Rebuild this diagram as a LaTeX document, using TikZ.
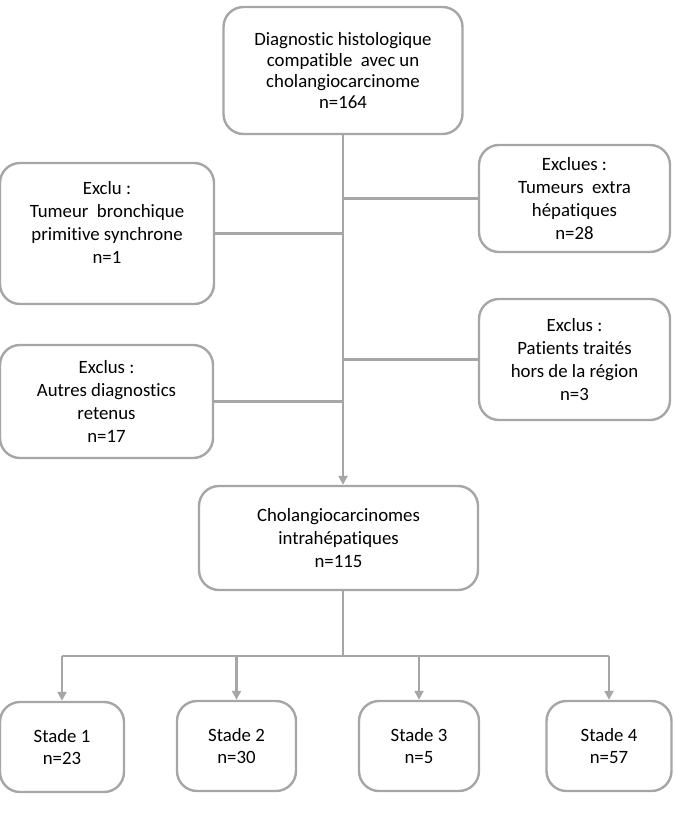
\documentclass[tikz,border=0pt]{standalone}
\usepackage{fontspec}
\setmainfont{Carlito}[Ligatures=NoCommon]
\usetikzlibrary{arrows.meta,positioning}
\definecolor{edge}{HTML}{A6A6A6}
\tikzset{
  box/.style={draw=edge, line width=2.4pt, rounded corners=20pt, fill=white,
    align=center, inner sep=2pt, font=\fontsize{18.8}{22.8}\selectfont, text=black},
  link/.style={draw=edge, line width=2.4pt},
  arr/.style={link, -{Triangle[width=9pt,length=9pt]}}
}
\begin{document}
\begin{tikzpicture}[x=1pt,y=-1pt]
\useasboundingbox (0,0) rectangle (675,825);
\node[box, minimum width=239pt, minimum height=127pt, font=\fontsize{18.8}{21}\selectfont] (top) at (343,70.5)
  {Diagnostic histologique\\compatible\ \ avec un\\cholangiocarcinome\\n=164};
\node[box, minimum width=214pt, minimum height=141pt, text depth=22pt] (ex1) at (107,233.5)
  {Exclu :\\Tumeur\ \ bronchique\\primitive synchrone\\n=1};
\node[box, minimum width=191pt, minimum height=107pt] (ex2) at (574.5,198.5)
  {Exclues :\\Tumeurs\ \ extra\\hépatiques\\n=28};
\node[box, minimum width=191pt, minimum height=121pt] (ex3) at (574.5,359.5)
  {Exclus :\\Patients traités\\hors de la région\\n=3};
\node[box, minimum width=213pt, minimum height=113pt] (ex4) at (106.5,401.5)
  {Exclus :\\Autres diagnostics\\retenus\\n=17};
\node[box, minimum width=279pt, minimum height=104pt] (chol) at (338.5,538)
  {Cholangiocarcinomes\\intrahépatiques\\n=115};
\node[box, minimum width=124pt, minimum height=90pt] (s1) at (62,747) {Stade 1\\n=23};
\node[box, minimum width=119pt, minimum height=90pt] (s2) at (236.5,746) {Stade 2\\n=30};
\node[box, minimum width=120pt, minimum height=90pt] (s3) at (419,746) {Stade 3\\n=5};
\node[box, minimum width=125pt, minimum height=90pt] (s4) at (609,746) {Stade 4\\n=57};

\draw[arr] (top.south) -- (top.south |- chol.north);
\draw[link] (ex2.west) -- (ex2.west -| top.south);
\draw[link] (ex1.east) -- (ex1.east -| top.south);
\draw[link] (ex3.west) -- (ex3.west -| top.south);
\draw[link] (ex4.east) -- (ex4.east -| top.south);

\coordinate (jb) at (343,656);
\draw[link] (chol.south -| jb) -- (jb);
\draw[link] (s1.north |- jb) -- (s4.north |- jb);
\draw[arr] (s1.north |- jb) -- (s1.north);
\draw[arr] (s2.north |- jb) -- (s2.north);
\draw[arr] (s3.north |- jb) -- (s3.north);
\draw[arr] (s4.north |- jb) -- (s4.north);
\end{tikzpicture}
\end{document}
